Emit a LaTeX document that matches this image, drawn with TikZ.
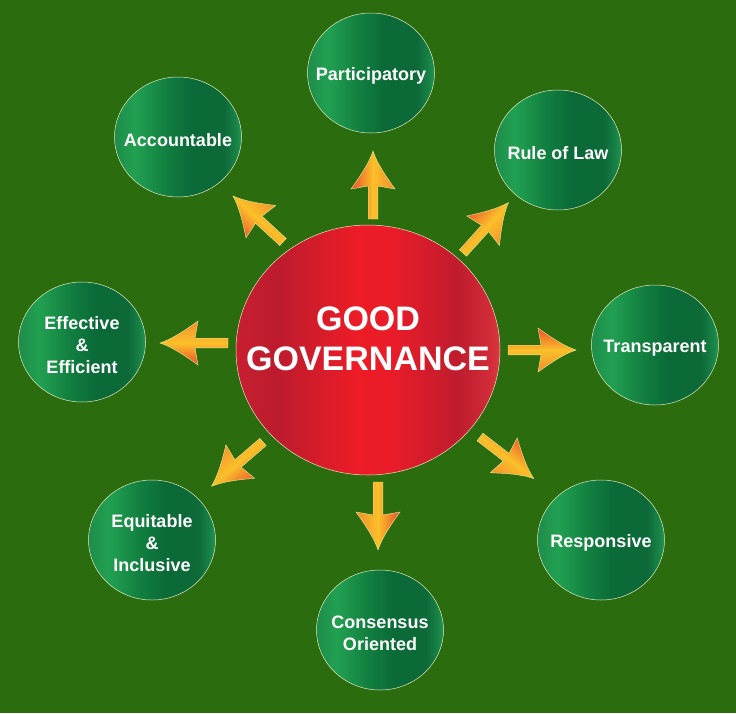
\documentclass[tikz,border=0pt]{standalone}
\usepackage{fontspec}
\setmainfont{Liberation Sans}
\usetikzlibrary{shapes.geometric}
\definecolor{bg}{RGB}{43,108,14}
\definecolor{rim}{RGB}{225,230,190}
\definecolor{arA}{RGB}{236,78,44}
\definecolor{arB}{RGB}{250,192,42}
\definecolor{arC}{RGB}{242,140,44}
\pgfdeclarehorizontalshading{greenball}{100bp}{%
  rgb(0bp)=(0.12,0.55,0.29);
  rgb(25bp)=(0.12,0.55,0.29);
  rgb(33bp)=(0.13,0.63,0.32);
  rgb(45bp)=(0.07,0.50,0.25);
  rgb(55bp)=(0.04,0.42,0.22);
  rgb(68bp)=(0.05,0.41,0.22);
  rgb(73bp)=(0.10,0.52,0.28);
  rgb(75bp)=(0.15,0.58,0.32);
  rgb(100bp)=(0.15,0.58,0.32)}
\pgfdeclarehorizontalshading{redball}{100bp}{%
  rgb(0bp)=(0.78,0.12,0.19);
  rgb(25bp)=(0.78,0.12,0.19);
  rgb(33bp)=(0.74,0.11,0.18);
  rgb(48bp)=(0.93,0.11,0.15);
  rgb(55bp)=(0.91,0.11,0.16);
  rgb(67bp)=(0.75,0.11,0.18);
  rgb(73bp)=(0.82,0.17,0.22);
  rgb(75bp)=(0.86,0.22,0.25);
  rgb(100bp)=(0.86,0.22,0.25)}
\tikzset{
  ball/.style={ellipse, shading=greenball, draw=rim, line width=0.5pt,
    minimum width=127pt, minimum height=120pt, inner sep=0pt,
    label={[balltext]center:#1}},
  balltext/.style={text=white, align=center, inner sep=0pt, yshift=-3pt,
    font=\bfseries\fontsize{18}{22}\selectfont},
  hub/.style={ellipse, shading=redball, draw=rim, line width=0.5pt,
    minimum width=264pt, minimum height=250pt, inner sep=0pt,
    label={[hubtext]center:#1}},
  hubtext/.style={text=white, align=center, inner sep=0pt, yshift=11pt,
    font=\bfseries\fontsize{34}{40}\selectfont},
  garrow/.pic={
    \path[draw=rim!80!yellow, line width=0.4pt,
      top color=arA, bottom color=arC, middle color=arB, shading angle=#1]
      (0,-4.8) -- (33,-4.8) -- (30,-22)
      .. controls (44,-12) and (56,-4) .. (68,0)
      .. controls (56,4) and (44,12) .. (30,22)
      -- (33,4.8) -- (0,4.8) -- cycle;
  }
}
\begin{document}
\begin{tikzpicture}[x=1pt,y=-1pt]
\fill[bg] (0,0) rectangle (736,713);
\useasboundingbox (0,0) rectangle (736,713);

\node[hub={GOOD\\GOVERNANCE}] (gg) at (368,350) {};

\node[ball={Participatory}] (part) at (371,73) {};
\node[ball={Accountable}] (acc) at (178,137) {};
\node[ball={Rule of Law}] (rol) at (558,150) {};
\node[ball={Effective\\\&\\Efficient}] (eff) at (82,342) {};
\node[ball={Transparent}] (tra) at (655,345) {};
\node[ball={Equitable\\\&\\Inclusive}] (equ) at (152,540) {};
\node[ball={Responsive}] (res) at (601,540) {};
\node[ball={Consensus\\Oriented}] (con) at (380,630) {};

\coordinate (tN) at (373,219);
\coordinate (tNW) at (283,242);
\coordinate (tNE) at (463,253);
\coordinate (tW) at (228,343);
\coordinate (tE) at (508,350);
\coordinate (tS) at (378,482);
\coordinate (tSW) at (263,442);
\coordinate (tSE) at (480,437);

\pic[rotate=90] at (tN) {garrow=90};
\pic[rotate=137.4] at (tNW) {garrow=137.4};
\pic[rotate=48] at (tNE) {garrow=48};
\pic[rotate=180] at (tW) {garrow=180};
\pic[rotate=0] at (tE) {garrow=0};
\pic[rotate=270] at (tS) {garrow=270};
\pic[rotate=220.7] at (tSW) {garrow=220.7};
\pic[rotate=-37.7] at (tSE) {garrow=-37.7};
\end{tikzpicture}
\end{document}
